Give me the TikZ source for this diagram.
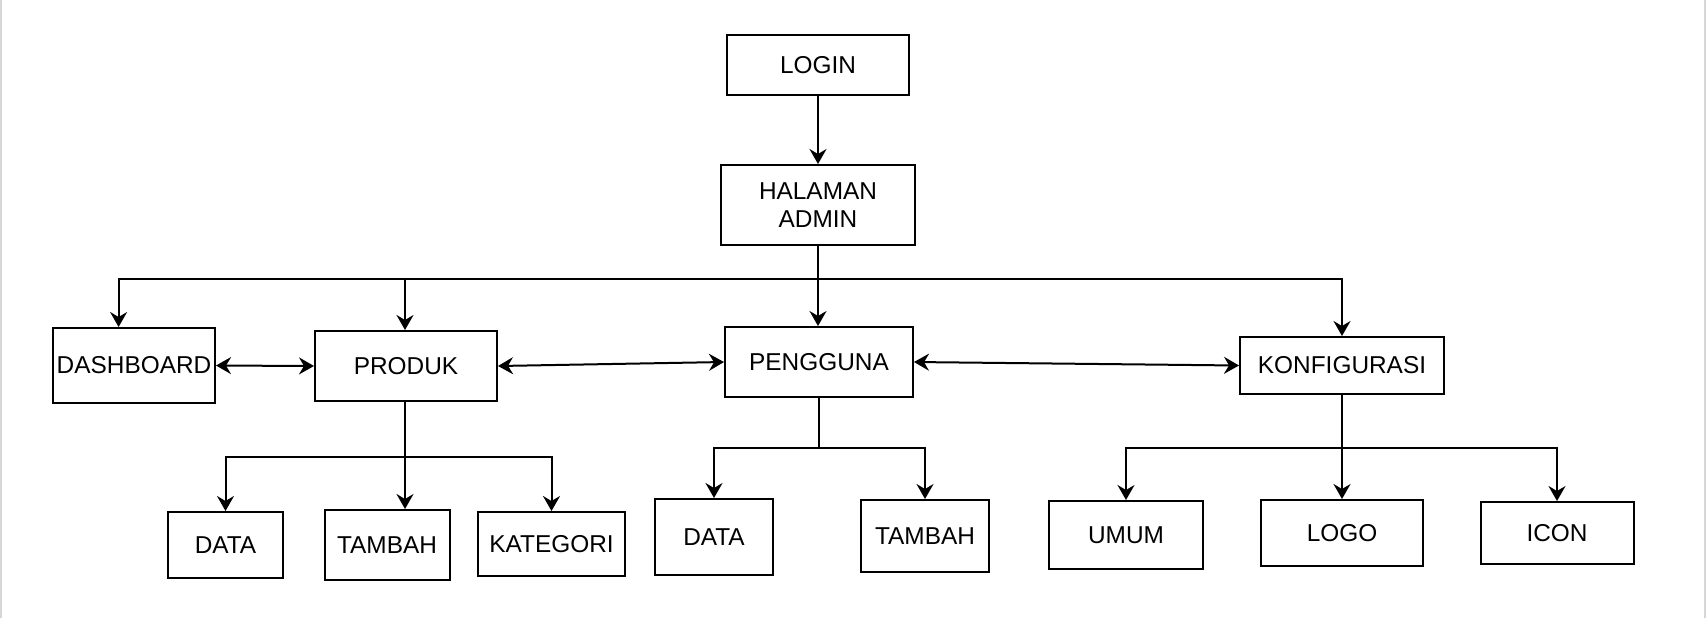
\documentclass[tikz,border=0pt]{standalone}
\usepackage{fontspec}
\setmainfont{Liberation Sans}
\usetikzlibrary{arrows.meta,calc,positioning}

\begin{document}
\begin{tikzpicture}[
    x=0.5pt, y=-0.5pt,
    font=\fontsize{12.2}{13.8}\selectfont,
    box/.style={
        draw=black,
        fill=white,
        minimum height=35pt,
        minimum width=90pt,
        align=center,
        inner sep=1pt,
        line width=1pt
    },
    link/.style={line width=1pt, draw=black},
    flow/.style={-{Stealth[length=7.5pt,width=8.5pt,inset=2.5pt]}, line width=1pt, draw=black},
    twoway/.style={{Stealth[length=7.5pt,width=8.5pt,inset=2.5pt]}-{Stealth[length=7.5pt,width=8.5pt,inset=2.5pt]}, line width=1pt, draw=black}
]

\definecolor{framegray}{RGB}{214,214,214}

\useasboundingbox (0,0) rectangle (1706,618);
\fill[white] (0,0) rectangle (1706,618);
\fill[framegray] (0,0) rectangle (2,618);
\fill[framegray] (1704,0) rectangle (1706,618);

% top of the tree
\node[box, minimum width=91pt, minimum height=30pt] (login) at (818,65) {LOGIN};
\node[box, minimum width=97pt, minimum height=40pt] (admin) at (818,205) {HALAMAN\\ADMIN};

% main menu
\node[box, minimum width=81pt, minimum height=37.5pt] (dash) at (134,365.5) {DASHBOARD};
\node[box, minimum width=91pt, minimum height=35pt] (produk) at (406,366) {PRODUK};
\node[box, minimum width=94pt, minimum height=35pt] (pengguna) at (819,362) {PENGGUNA};
\node[box, minimum width=102pt, minimum height=28.5pt] (konfig) at (1342,365.5) {KONFIGURASI};

% sub menu
\node[box, minimum width=57.5pt, minimum height=33pt] (dataprod) at (225.5,545) {DATA};
\node[box, minimum width=62.5pt, minimum height=35pt] (tambahprod) at (387,545) {TAMBAH};
\node[box, minimum width=73.5pt, minimum height=32pt] (kategori) at (551.5,544) {KATEGORI};
\node[box, minimum width=59pt, minimum height=38pt] (datauser) at (714,537) {DATA};
\node[box, minimum width=64pt, minimum height=36pt] (tambahuser) at (925,536) {TAMBAH};
\node[box, minimum width=77pt, minimum height=34pt] (umum) at (1126,535) {UMUM};
\node[box, minimum width=81pt, minimum height=33pt] (logo) at (1342,533) {LOGO};
\node[box, minimum width=76.5pt, minimum height=31pt] (icon) at (1557,533) {ICON};

\coordinate (mainbus) at (818,279);
\coordinate (produkbus) at (405,457);
\coordinate (userbus) at (819,448);
\coordinate (konfigbus) at (1342,448);

\draw[flow] (login) -- (admin);
\draw[link] (admin.south) -- (mainbus);
\draw[flow] (mainbus) -| ([xshift=-7.7pt]dash.north);
\draw[flow] (mainbus) -| (produk.north -| produkbus);
\draw[flow] (mainbus) -- (mainbus |- pengguna.north);
\draw[flow] (mainbus) -| (konfig.north);

\draw[twoway] (dash.east) -- (produk.west);
\draw[twoway] (produk.east) -- (pengguna.west);
\draw[twoway] (pengguna.east) -- (konfig.west);

\draw[flow] (produk.south -| produkbus) -- (produkbus |- tambahprod.north);
\draw[flow] (produkbus) -| (dataprod.north);
\draw[flow] (produkbus) -| (kategori.north);

\draw[link] (pengguna.south) -- (userbus);
\draw[flow] (userbus) -| (datauser.north);
\draw[flow] (userbus) -| (tambahuser.north);

\draw[flow] (konfig.south) -- (logo.north);
\draw[flow] (konfigbus) -| (umum.north);
\draw[flow] (konfigbus) -| (icon.north);

\end{tikzpicture}
\end{document}
